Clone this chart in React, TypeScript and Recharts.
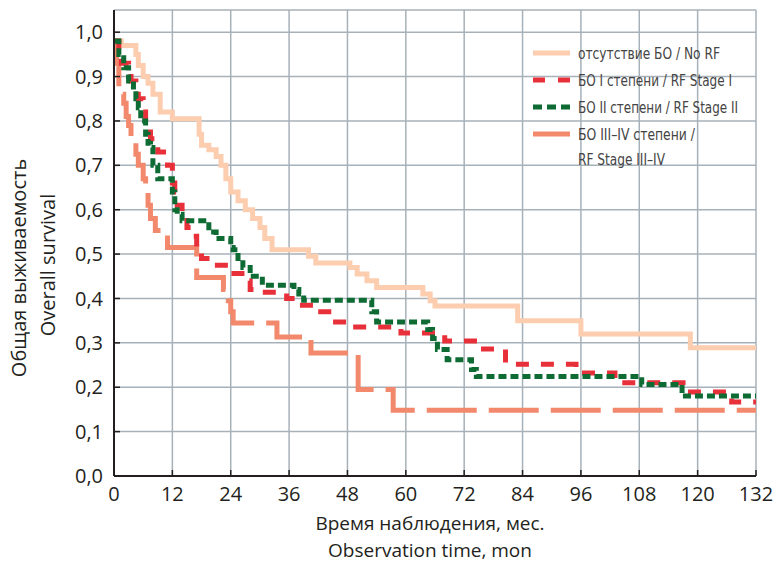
import { LineChart, Line, XAxis, YAxis, CartesianGrid } from "recharts";

// months on the x axis, survival share on the y axis
const monthTicks = [0, 12, 24, 36, 48, 60, 72, 84, 96, 108, 120, 132];
const survivalTicks = [0, 0.1, 0.2, 0.3, 0.4, 0.5, 0.6, 0.7, 0.8, 0.9, 1.0];

// отсутствие БО / No RF
const noRfTime = [0, 1.5, 4.5, 5, 6, 7, 8, 9.5, 12, 17.5, 18, 19.5, 21, 22, 23, 24, 25.5, 27, 28.5, 30, 31, 32.5, 40, 41.5, 48.5, 50, 52, 54, 63.5, 65, 66, 83, 96, 118.5, 132];
const noRfSurv = [0.98, 0.97, 0.95, 0.925, 0.9, 0.885, 0.86, 0.82, 0.805, 0.77, 0.745, 0.735, 0.72, 0.7, 0.67, 0.64, 0.62, 0.6, 0.58, 0.56, 0.535, 0.51, 0.495, 0.48, 0.47, 0.455, 0.44, 0.425, 0.41, 0.395, 0.383, 0.35, 0.32, 0.289, 0.289];

// БО I степени / RF Stage I
const stage1Time = [0, 1, 1.5, 3, 3.5, 4.5, 5, 6, 6.5, 7.5, 9, 11, 12, 12.5, 13, 14, 15, 16, 17, 18, 20, 24, 27, 28, 30.5, 35.5, 38, 42.5, 45, 48.5, 59, 68, 75, 80.5, 95, 103, 117, 127, 132];
const stage1Surv = [0.98, 0.95, 0.93, 0.9, 0.89, 0.87, 0.85, 0.82, 0.8, 0.76, 0.73, 0.7, 0.66, 0.64, 0.61, 0.59, 0.56, 0.54, 0.51, 0.49, 0.475, 0.456, 0.44, 0.42, 0.414, 0.4, 0.385, 0.37, 0.347, 0.336, 0.322, 0.304, 0.286, 0.252, 0.232, 0.21, 0.189, 0.167, 0.167];

// БО II степени / RF Stage II
const stage2Time = [0, 1, 2, 3, 4, 4.5, 5, 5.5, 6.5, 7, 7.5, 8, 9, 12, 12.5, 13, 14, 19.5, 21, 24, 24.5, 25.5, 26.5, 28, 30.5, 37, 38, 39, 53, 54, 64.5, 65.5, 66.5, 68.5, 73.5, 74.5, 108.5, 116.8, 132];
const stage2Surv = [0.98, 0.95, 0.92, 0.89, 0.87, 0.85, 0.83, 0.8, 0.77, 0.75, 0.74, 0.7, 0.67, 0.64, 0.6, 0.59, 0.575, 0.55, 0.535, 0.515, 0.51, 0.49, 0.47, 0.45, 0.43, 0.42, 0.41, 0.396, 0.37, 0.347, 0.33, 0.31, 0.285, 0.262, 0.24, 0.224, 0.206, 0.18, 0.18];

// БО III–IV степени / RF Stage III–IV
const stage34Time = [0, 0.5, 1, 2, 2.5, 3, 3.5, 4.5, 5, 6, 6.5, 7, 7.5, 8.5, 11, 17, 22.5, 23.5, 24, 24.5, 33.5, 40.5, 50.2, 57.4, 132];
const stage34Surv = [0.98, 0.93, 0.86, 0.84, 0.81, 0.79, 0.76, 0.725, 0.7, 0.67, 0.64, 0.61, 0.58, 0.553, 0.515, 0.447, 0.42, 0.395, 0.37, 0.345, 0.313, 0.277, 0.195, 0.148, 0.148];

const toRows = (t: number[], v: number[]) => t.map((m, i) => ({ t: m, s: v[i] }));

const FONT = "'Open Sans', 'Noto Sans', sans-serif";
const NARROW = "'Liberation Sans Narrow', 'DejaVu Sans Condensed', sans-serif";
const INK = "#231f20";

// legend rows: text, and the width each line takes in the reference
const legendItems = [
  { label: [["отсутствие БО / No RF", 142]], color: "#fdcdb0", dash: "", y: 53 },
  { label: [["БО I степени / RF Stage I", 154]], color: "#e8303a", dash: "12 13", y: 80 },
  { label: [["БО II степени / RF Stage II", 160]], color: "#0f6b34", dash: "9 5", y: 107 },
  { label: [["БО III–IV степени /", 117], ["RF Stage III–IV", 87]], color: "#f3896c", dash: "", y: 134 },
] as { label: [string, number][]; color: string; dash: string; y: number }[];

const fmt = (v: number) => v.toFixed(1).replace(".", ",");

export default function App() {
  return (
    <div style={{ position: "relative", width: 776, height: 568, background: "#fff" }}>
      <style>{`body{margin:0}`}</style>
      <LineChart width={776} height={568} margin={{ top: 10, right: 20, bottom: 0, left: 0 }}>
        <CartesianGrid stroke="#a7b1b9" strokeWidth={1.5} />
        <XAxis
          type="number"
          dataKey="t"
          domain={[0, 132]}
          ticks={monthTicks}
          allowDataOverflow
          height={92}
          axisLine={{ stroke: INK, strokeWidth: 2 }}
          tickLine={{ stroke: INK, strokeWidth: 1.5 }}
          tickSize={-6}
          tickMargin={17}
          tick={{ fill: INK, fontSize: 20, fontFamily: FONT }}
        />
        <XAxis
          xAxisId="top"
          orientation="top"
          type="number"
          domain={[0, 132]}
          ticks={monthTicks}
          height={0}
          axisLine={{ stroke: INK, strokeWidth: 2 }}
          tickLine={{ stroke: INK, strokeWidth: 1.5 }}
          tickSize={-6}
          tickFormatter={() => ""}
        />
        <YAxis
          type="number"
          domain={[0, 1.05]}
          ticks={survivalTicks}
          allowDataOverflow
          width={114}
          axisLine={{ stroke: INK, strokeWidth: 2 }}
          tickLine={{ stroke: INK, strokeWidth: 1.5 }}
          tickSize={-6}
          tickMargin={17}
          tickFormatter={fmt}
          tick={{ fill: INK, fontSize: 20, fontFamily: FONT }}
        />
        <YAxis
          yAxisId="right"
          orientation="right"
          type="number"
          domain={[0, 1.05]}
          ticks={survivalTicks}
          width={0}
          axisLine={{ stroke: INK, strokeWidth: 2 }}
          tickLine={{ stroke: INK, strokeWidth: 1.5 }}
          tickSize={-6}
          tickFormatter={() => ""}
        />
        <Line data={toRows(noRfTime, noRfSurv)} dataKey="s" type="stepAfter" stroke="#fdcdb0" strokeWidth={5} dot={false} isAnimationActive={false} />
        <Line data={toRows(stage34Time, stage34Surv)} dataKey="s" type="stepAfter" stroke="#f3896c" strokeWidth={5} strokeDasharray="50 12" dot={false} isAnimationActive={false} />
        <Line data={toRows(stage1Time, stage1Surv)} dataKey="s" type="stepAfter" stroke="#e8303a" strokeWidth={5} strokeDasharray="13 12" dot={false} isAnimationActive={false} />
        <Line data={toRows(stage2Time, stage2Surv)} dataKey="s" type="stepAfter" stroke="#0f6b34" strokeWidth={5} strokeDasharray="8 4" dot={false} isAnimationActive={false} />
      </LineChart>

      {/* legend */}
      <svg width={776} height={568} style={{ position: "absolute", left: 0, top: 0, pointerEvents: "none" }}>
        {legendItems.map((it) => (
          <g key={it.label[0][0]}>
            <line x1={533} x2={570} y1={it.y} y2={it.y} stroke={it.color} strokeWidth={5} strokeDasharray={it.dash || undefined} />
            {it.label.map(([l, w], i) => (
              <text key={l} x={578} y={it.y + i * 25} dy="0.35em" fontSize={16} fontFamily={NARROW} fill="#444" textLength={w} lengthAdjust="spacingAndGlyphs">
                {l}
              </text>
            ))}
          </g>
        ))}
        {/* axis titles */}
        <text x={430} y={523} dy="0.35em" textAnchor="middle" fontSize={19} fontFamily={FONT} fill={INK}>
          Время наблюдения, мес.
        </text>
        <text x={430} y={550} dy="0.35em" textAnchor="middle" fontSize={19} fontFamily={FONT} fill={INK}>
          Observation time, mon
        </text>
        <text transform="translate(19 268) rotate(-90)" dy="0.35em" textAnchor="middle" fontSize={20} fontFamily={FONT} fill={INK}>
          Общая выживаемость
        </text>
        <text transform="translate(48 265) rotate(-90)" dy="0.35em" textAnchor="middle" fontSize={20} fontFamily={FONT} fill={INK}>
          Overall survival
        </text>
      </svg>
    </div>
  );
}
